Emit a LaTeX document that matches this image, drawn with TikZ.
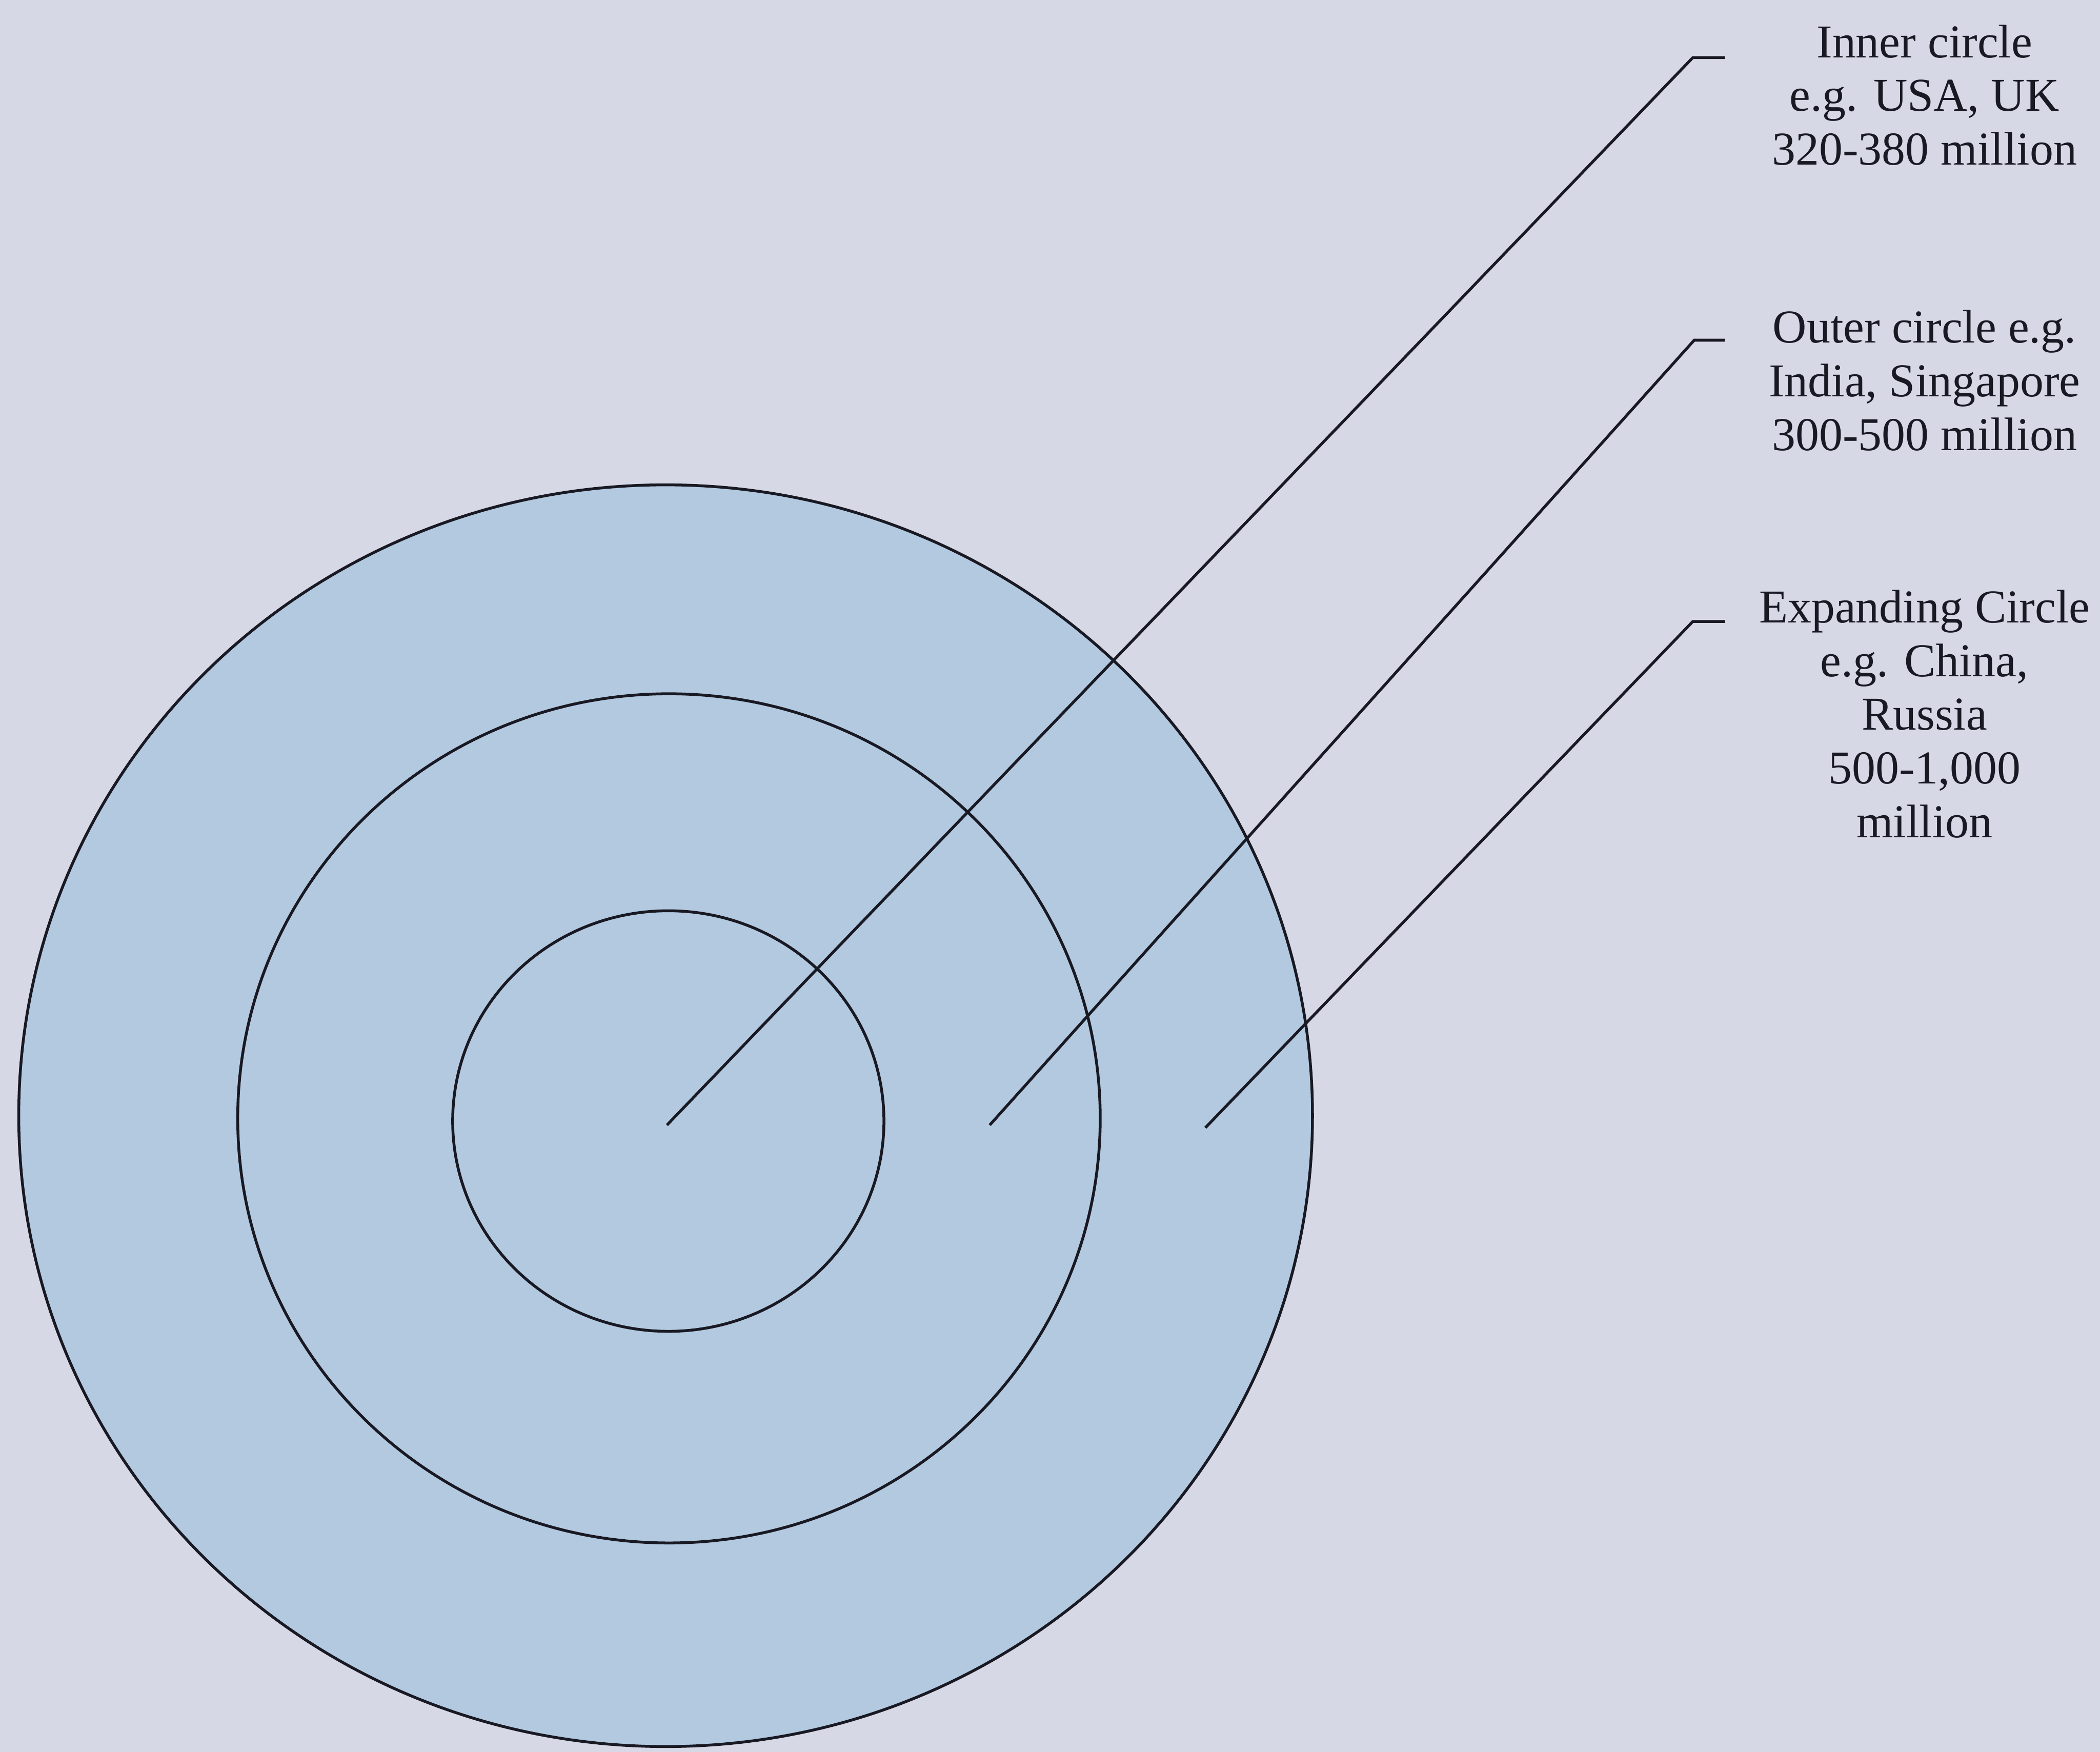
\documentclass[tikz,border=0pt]{standalone}
\usepackage{fontspec}
\setmainfont{Liberation Serif}
\definecolor{paper}{RGB}{215,216,230}
\definecolor{ringfill}{RGB}{178,201,224}
\definecolor{ink}{RGB}{25,25,35}
\tikzset{
  ring/.style={draw=ink, line width=0.6pt},
  leader/.style={draw=ink, line width=0.6pt},
  circlabel/.style={align=center, text=ink, inner sep=0pt,
    font=\fontsize{10}{11.4}\selectfont}
}
\begin{document}
\begin{tikzpicture}[x=0.01cm, y=0.01cm]
\fill[paper] (0,0) rectangle (1568,1308);
\useasboundingbox (0,0) rectangle (1568,1308);
% the three circles
\fill[ringfill] (497,475) ellipse [x radius=483, y radius=471];
\draw[ring] (497,475) ellipse [x radius=483, y radius=471];
\draw[ring] (499.5,473) ellipse [x radius=322, y radius=317];
\draw[ring] (499,471) ellipse [x radius=161, y radius=157];
% labels
\node[circlabel] (inner) at (1437,1237) {Inner circle\\e.g. USA, UK\\320-380 million};
\node[circlabel] (outer) at (1437,1024) {Outer circle e.g.\\India, Singapore\\300-500 million};
\node[circlabel] (expand) at (1437,775) {Expanding Circle\\e.g. China,\\Russia\\500-1,000\\million};
% leader lines
\coordinate (innerpt) at (498,468);
\coordinate (outerpt) at (739,468);
\coordinate (expandpt) at (900,466);
\coordinate (innerbend) at (1264,1265);
\coordinate (outerbend) at (1265,1054);
\coordinate (expandbend) at (1264,844);
\coordinate (innertick) at (1288,1265);
\coordinate (outertick) at (1288,1054);
\coordinate (expandtick) at (1288,844);
\draw[leader] (innerpt) -- (innerbend) -- (innertick);
\draw[leader] (outerpt) -- (outerbend) -- (outertick);
\draw[leader] (expandpt) -- (expandbend) -- (expandtick);
\end{tikzpicture}
\end{document}
